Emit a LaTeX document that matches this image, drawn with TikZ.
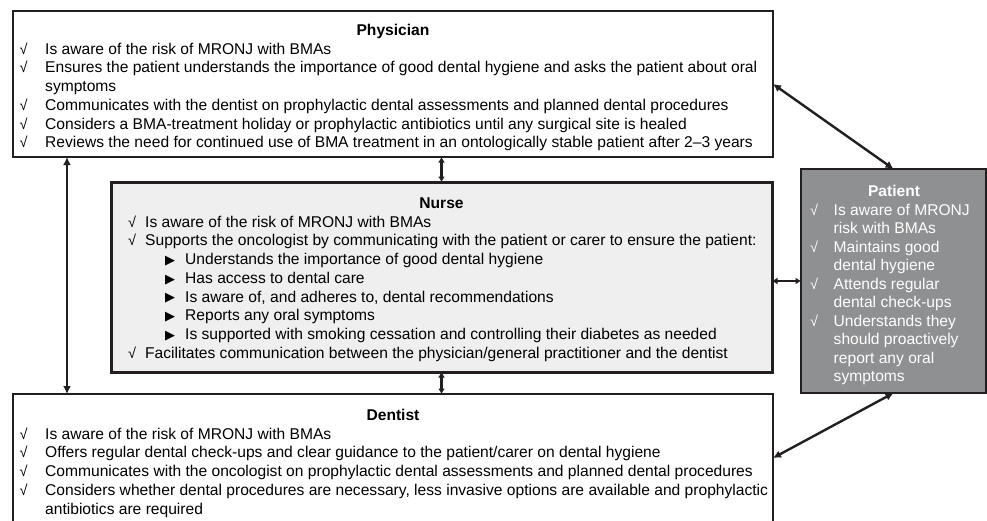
\documentclass[tikz,border=0pt]{standalone}
\usepackage{fontspec}
\setmainfont{Liberation Sans}
\newfontfamily\symfont{DejaVu Sans}
\usetikzlibrary{arrows.meta,calc}
\definecolor{nursefill}{HTML}{EFEFEF}
\definecolor{patfill}{HTML}{8F9092}
\definecolor{edge}{HTML}{231F20}
\newcommand\ck{{\fontsize{14.5}{14}\selectfont √}}
\newcommand\tri{\raisebox{0.2pt}{\symfont\fontsize{13}{10}\selectfont ▶}}
\begin{document}
\begin{tikzpicture}[x=1pt,y=-1pt,
 box/.style={draw=edge, line width=1.3pt, anchor=north west, inner sep=0pt, outer sep=0pt},
 ttl/.style={font=\fontsize{15.6}{18.7}\selectfont\bfseries, anchor=base, inner sep=0pt},
 lst/.style={font=\fontsize{15.6}{18.7}\selectfont, anchor=base west, inner sep=0pt, align=left},
 link/.style={draw=edge, line width=2.4pt, {Latex[length=8pt,width=8pt]}-{Latex[length=8pt,width=8pt]}},
 slink/.style={draw=edge, line width=2.4pt, {Latex[length=5.5pt,width=7pt]}-{Latex[length=5.5pt,width=7pt]}}]
\clip (0,0) rectangle (987,520);
\fill[white] (0,0) rectangle (987,520);
% Physician
\node[box, minimum width=760pt, minimum height=146pt] (phys) at (13,11) {};
\node[ttl] (physT) at (393,35.5) {Physician};
\node[lst] (physL) at (19.5,54.2) {\begin{tabular}[t]{@{}p{25.5pt}@{}l@{}}
\ck & Is aware of the risk of MRONJ with BMAs\\
\ck & Ensures the patient understands the importance of good dental hygiene and asks the patient about oral\\
 & symptoms\\
\ck & Communicates with the dentist on prophylactic dental assessments and planned dental procedures\\
\ck & Considers a BMA-treatment holiday or prophylactic antibiotics until any surgical site is healed\\
\ck & Reviews the need for continued use of BMA treatment in an ontologically stable patient after 2–3 years
\end{tabular}};
% Nurse
\node[box, line width=3pt, fill=nursefill, minimum width=661pt, minimum height=190pt] (nurse) at (111,182) {};
\node[ttl] (nurseT) at (441.5,208.5) {Nurse};
\node[lst] (nurseL) at (128,227.2) {\begin{tabular}[t]{@{}p{17pt}@{}l@{}}
\ck & Is aware of the risk of MRONJ with BMAs\\
\ck & Supports the oncologist by communicating with the patient or carer to ensure the patient:\\
 & \hspace*{20pt}\makebox[20pt][l]{\tri}Understands the importance of good dental hygiene\\
 & \hspace*{20pt}\makebox[20pt][l]{\tri}Has access to dental care\\
 & \hspace*{20pt}\makebox[20pt][l]{\tri}Is aware of, and adheres to, dental recommendations\\
 & \hspace*{20pt}\makebox[20pt][l]{\tri}Reports any oral symptoms\\
 & \hspace*{20pt}\makebox[20pt][l]{\tri}Is supported with smoking cessation and controlling their diabetes as needed\\
\ck & Facilitates communication between the physician/general practitioner and the dentist
\end{tabular}};
% Patient
\node[box, fill=patfill, minimum width=185pt, minimum height=224pt] (pat) at (801,169) {};
\node[ttl, text=white] (patT) at (894,196.5) {Patient};
\node[lst, text=white, font=\fontsize{15.6}{18.5}\selectfont] (patL) at (810,215) {\begin{tabular}[t]{@{}p{23.5pt}@{}l@{}}
\ck & Is aware of MRONJ\\
 & risk with BMAs\\
\ck & Maintains good\\
 & dental hygiene\\
\ck & Attends regular\\
 & dental check-ups\\
\ck & Understands they\\
 & should proactively\\
 & report any oral\\
 & symptoms
\end{tabular}};
% Dentist
\node[box, minimum width=760pt, minimum height=128pt] (dent) at (13,394) {};
\node[ttl] (dentT) at (393,420.5) {Dentist};
\node[lst] (dentL) at (19.5,439.2) {\begin{tabular}[t]{@{}p{25.5pt}@{}l@{}}
\ck & Is aware of the risk of MRONJ with BMAs\\
\ck & Offers regular dental check-ups and clear guidance to the patient/carer on dental hygiene\\
\ck & Communicates with the oncologist on prophylactic dental assessments and planned dental procedures\\
\ck & Considers whether dental procedures are necessary, less invasive options are available and prophylactic\\
 & antibiotics are required
\end{tabular}};
% connectors
\coordinate (pd) at ($(phys.south west)+(54,0)$);
\draw[link] (pd) -- (pd |- dent.north);
\draw[link] (phys.east) -- (pat.north);
\draw[link] (dent.east) -- (pat.south);
\draw[slink] (nurse.east |- pat.west) -- (pat.west);
\draw[slink] (nurse.north) -- (nurse.north |- phys.south);
\draw[slink] (nurse.south) -- (nurse.south |- dent.north);
\end{tikzpicture}
\end{document}
